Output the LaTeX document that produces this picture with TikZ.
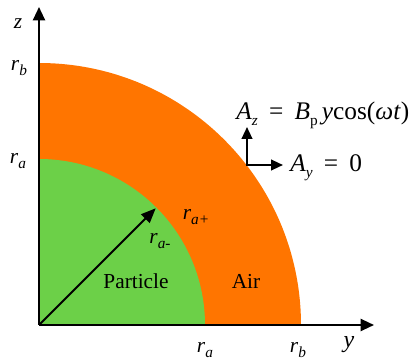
\documentclass[tikz,border=0pt]{standalone}
\usepackage{fontspec}
\setmainfont{Liberation Serif}
\usetikzlibrary{arrows.meta,calc}
\definecolor{airc}{RGB}{255,117,0}
\definecolor{partc}{RGB}{108,208,72}
\newcommand{\mysubs}[1]{\raisebox{-0.45ex}{\fontsize{11.5}{12}\selectfont #1}}
\tikzset{
  axis/.style={line width=1.6pt,-{Triangle[length=10pt,width=9pt]}},
  smallarr/.style={line width=1.6pt,-{Triangle[length=9pt,width=8pt]}},
  lab/.style={font=\fontsize{16}{18}\selectfont,inner sep=0pt},
  big/.style={font=\fontsize{19}{21}\selectfont,inner sep=0pt}
}
\begin{document}
\begin{tikzpicture}[x=0.75pt,y=0.75pt]
\useasboundingbox (0,0) rectangle (415,361);
\coordinate (O) at (39,36);
\fill[airc] (O) -- ++(262,0) arc[start angle=0,end angle=90,radius=262] -- cycle;
\fill[partc] (O) -- ++(166,0) arc[start angle=0,end angle=90,radius=166] -- cycle;
\coordinate (ye) at (374,36);
\coordinate (ze) at (39,354);
\draw[axis] (O) -- (ye);
\draw[axis] (O) -- (ze);
\coordinate (R) at ($(O)+(45:165)$);
\draw[line width=1.4pt,-{Triangle[length=11pt,width=9pt]}] (O) -- (R);
\node[lab] (zl) at (18,337) {\textit{z}};
\node[lab] (rbz) at (19,293) {\textit{r}\mysubs{\textit{b}}};
\node[lab] (raz) at (18,200) {\textit{r}\mysubs{\textit{a}}};
\node[lab] (ray) at (205,11) {\textit{r}\mysubs{\textit{a}}};
\node[lab] (rby) at (298,11) {\textit{r}\mysubs{\textit{b}}};
\node[lab,font=\fontsize{18}{20}\selectfont] (yl) at (349,16) {\textit{y}};
\node[lab] (rap) at (196,144) {\textit{r}\mysubs{\textit{a+}}};
\node[lab] (ram) at (160,120) {\textit{r}\mysubs{\textit{a-}}};
\node[lab] (part) at (136,80) {Particle};
\node[lab] (air) at (246,80) {Air};
\coordinate (C) at (247,196);
\coordinate (Cu) at (247,234);
\coordinate (Cr) at (283,196);
\draw[smallarr] (C) -- (Cu);
\draw[smallarr] ([xshift=-0.8pt]C) -- (Cr);
\node[big,anchor=base west] (az) at (236,241) {\textit{A}\mysubs{\textit{z}}\;\,=\;\,\textit{B}\mysubs{p}\,\textit{y}cos(\textit{ωt})};
\node[big,anchor=base west] (ay) at (290,189) {\textit{A}\mysubs{\textit{y}}\;\,=\;\,0};
\end{tikzpicture}
\end{document}
